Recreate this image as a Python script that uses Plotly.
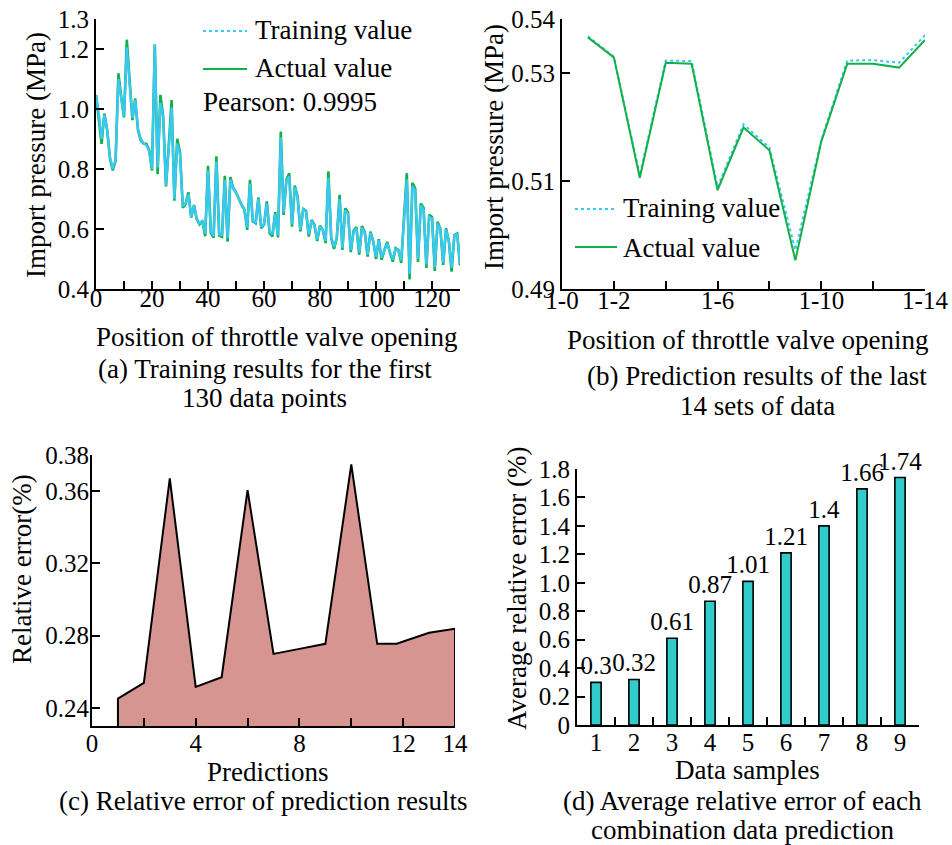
import plotly.graph_objects as go

W, H = 952, 845
FONT = "Liberation Serif, Times New Roman, serif"

# ---------------- data ----------------
# (a) training results, first 130 data points
a_x = list(range(0, 131))
a_actual = [1.047, 0.974, 0.884, 0.985, 0.929, 0.834, 0.795, 0.828, 1.119, 1.041,
            0.972, 1.231, 1.097, 0.963, 1.035, 0.929, 0.895, 0.884, 0.884, 0.862,
            0.795, 1.215, 0.783, 1.047, 0.974, 0.742, 0.880, 1.030, 0.694, 0.901,
            0.856, 0.671, 0.683, 0.722, 0.638, 0.680, 0.632, 0.615, 0.627, 0.576,
            0.811, 0.587, 0.571, 0.842, 0.578, 0.574, 0.777, 0.558, 0.773, 0.737,
            0.722, 0.700, 0.680, 0.665, 0.597, 0.764, 0.625, 0.619, 0.705, 0.603,
            0.614, 0.692, 0.586, 0.575, 0.656, 0.572, 0.925, 0.647, 0.764, 0.786,
            0.608, 0.745, 0.708, 0.592, 0.667, 0.661, 0.575, 0.630, 0.614, 0.560,
            0.611, 0.597, 0.553, 0.792, 0.570, 0.534, 0.570, 0.714, 0.530, 0.669,
            0.655, 0.523, 0.595, 0.606, 0.515, 0.610, 0.590, 0.508, 0.591, 0.560,
            0.500, 0.566, 0.497, 0.530, 0.557, 0.520, 0.491, 0.536, 0.530, 0.487,
            0.640, 0.786, 0.432, 0.754, 0.735, 0.490, 0.685, 0.670, 0.470, 0.647,
            0.640, 0.460, 0.624, 0.600, 0.480, 0.602, 0.560, 0.458, 0.580, 0.585,
            0.479]
a_training = [1.045, 0.985, 0.900, 0.980, 0.930, 0.840, 0.800, 0.830, 1.100, 1.040,
              0.975, 1.205, 1.095, 0.970, 1.030, 0.935, 0.900, 0.885, 0.880, 0.860,
              0.800, 1.215, 0.805, 1.020, 0.970, 0.745, 0.870, 1.005, 0.700, 0.885,
              0.850, 0.675, 0.685, 0.715, 0.640, 0.678, 0.634, 0.618, 0.626, 0.585,
              0.795, 0.592, 0.576, 0.825, 0.582, 0.580, 0.762, 0.570, 0.765, 0.735,
              0.720, 0.700, 0.680, 0.665, 0.605, 0.750, 0.628, 0.620, 0.700, 0.607,
              0.615, 0.685, 0.590, 0.582, 0.650, 0.580, 0.905, 0.655, 0.760, 0.775,
              0.615, 0.740, 0.705, 0.598, 0.665, 0.658, 0.582, 0.628, 0.612, 0.566,
              0.608, 0.597, 0.560, 0.770, 0.575, 0.540, 0.572, 0.700, 0.536, 0.662,
              0.650, 0.530, 0.592, 0.602, 0.522, 0.604, 0.588, 0.514, 0.588, 0.560,
              0.507, 0.562, 0.504, 0.530, 0.553, 0.522, 0.498, 0.534, 0.530, 0.495,
              0.640, 0.765, 0.450, 0.742, 0.728, 0.500, 0.678, 0.665, 0.482, 0.640,
              0.635, 0.472, 0.618, 0.598, 0.488, 0.598, 0.562, 0.470, 0.578, 0.582,
              0.485]
a_xticks = list(range(0, 131, 10))
a_xticklabels = ["0", "", "20", "", "40", "", "60", "", "80", "", "100", "", "120", ""]
a_yticks = [0.4, 0.6, 0.8, 1.0, 1.2, 1.3]
a_yticklabels = ["0.4", "0.6", "0.8", "1.0", "1.2", "1.3"]
pearson_text = "Pearson: 0.9995"

# (b) prediction results of the last 14 sets
b_x = list(range(1, 15))
b_actual = [0.5366, 0.5329, 0.5106, 0.5319, 0.5317, 0.5083, 0.5199, 0.5157,
            0.4953, 0.5173, 0.5317, 0.5317, 0.5310, 0.5361]
b_training = [0.5368, 0.5330, 0.5111, 0.5323, 0.5322, 0.5089, 0.5205, 0.5162,
              0.4972, 0.5176, 0.5323, 0.5324, 0.5319, 0.5370]
b_xticks = [0, 2, 4, 6, 8, 10, 12, 14]
b_xticklabels = ["1-0", "1-2", "", "1-6", "", "1-10", "", "1-14"]
b_yticks = [0.49, 0.51, 0.53, 0.54]
b_yticklabels = ["0.49", "0.51", "0.53", "0.54"]

# (c) relative error of prediction results
c_x = [1, 2, 3, 4, 5, 6, 7, 8, 9, 10, 11, 11.75, 13, 14]
c_err = [0.2452, 0.2539, 0.3671, 0.2516, 0.2570, 0.3606, 0.2699, 0.2727,
         0.2755, 0.3748, 0.2755, 0.2755, 0.2816, 0.2838]
c_xticks = [0, 2, 4, 6, 8, 10, 12, 14]
c_xticklabels = ["0", "", "4", "", "8", "", "12", "14"]
c_yticks = [0.24, 0.28, 0.32, 0.36, 0.38]
c_yticklabels = ["0.24", "0.28", "0.32", "0.36", "0.38"]

# (d) average relative error of each combination
d_samples = ["1", "2", "3", "4", "5", "6", "7", "8", "9"]
d_err = [0.30, 0.32, 0.61, 0.87, 1.01, 1.21, 1.40, 1.66, 1.74]
d_labels = ["0.3", "0.32", "0.61", "0.87", "1.01", "1.21", "1.4", "1.66", "1.74"]
d_yticks = [0, 0.2, 0.4, 0.6, 0.8, 1.0, 1.2, 1.4, 1.6, 1.8]
d_yticklabels = ["0", "0.2", "0.4", "0.6", "0.8", "1.0", "1.2", "1.4", "1.6", "1.8"]

GREEN = "#12b04a"
BLUE = "#38c8f4"
FILL = "#d69591"
TEAL = "#33cccc"
TXT = 27


def px(x):
    return x / W


def py(y):
    return 1 - y / H


fig = go.Figure()

# (a)
fig.add_trace(go.Scatter(x=a_x, y=a_actual, mode="lines", name="Actual value",
                         line=dict(color=GREEN, width=2.6), xaxis="x", yaxis="y",
                         showlegend=False))
fig.add_trace(go.Scatter(x=a_x, y=a_training, mode="lines", name="Training value",
                         line=dict(color=BLUE, width=2.4), xaxis="x", yaxis="y",
                         showlegend=False))
# (b)
fig.add_trace(go.Scatter(x=b_x, y=b_training, mode="lines", name="Training value",
                         line=dict(color=BLUE, width=2, dash="dot"), xaxis="x2", yaxis="y2",
                         showlegend=False))
fig.add_trace(go.Scatter(x=b_x, y=b_actual, mode="lines", name="Actual value",
                         line=dict(color=GREEN, width=2), xaxis="x2", yaxis="y2",
                         showlegend=False))
# (c) closed area down to the baseline
fig.add_trace(go.Scatter(x=[c_x[0]] + c_x + [c_x[-1]], y=[0] + c_err + [0],
                         mode="lines", fill="toself", fillcolor=FILL,
                         line=dict(color="black", width=2), xaxis="x3", yaxis="y3",
                         showlegend=False))
# (d)
fig.add_trace(go.Bar(x=d_samples, y=d_err, text=d_labels, textposition="outside",
                     constraintext="none",
                     textfont=dict(size=25, color="black", family=FONT),
                     marker=dict(color=TEAL, line=dict(color="black", width=1.6)),
                     width=0.27, cliponaxis=False, xaxis="x4", yaxis="y4",
                     showlegend=False))

axis_common = dict(showline=True, linecolor="black", linewidth=2, ticks="inside",
                   ticklen=8, tickwidth=2, tickcolor="black", showgrid=False,
                   zeroline=False, automargin=False, ticklabeloverflow="allow",
                   tickfont=dict(size=25, color="black", family=FONT))

fig.update_layout(
    template="none",
    width=W, height=H, margin=dict(l=0, r=0, t=0, b=0, pad=0),
    paper_bgcolor="white", plot_bgcolor="white",
    font=dict(family=FONT, size=25, color="black"),
    uniformtext=dict(mode=False),
    xaxis=dict(domain=[px(96), px(460)], range=[0, 130], tickmode="array",
               tickvals=a_xticks, ticktext=a_xticklabels, anchor="y",
               ticklabelstandoff=-14, **axis_common),
    yaxis=dict(domain=[py(289), py(19)], range=[0.4, 1.3], tickmode="array",
               tickvals=a_yticks, ticktext=a_yticklabels, anchor="x", **axis_common),
    xaxis2=dict(domain=[px(562), px(925)], range=[0, 14], tickmode="array",
                tickvals=b_xticks, ticktext=b_xticklabels, anchor="y2",
                ticklabelstandoff=-12, **axis_common),
    yaxis2=dict(domain=[py(289), py(19)], range=[0.49, 0.54], tickmode="array",
                tickvals=b_yticks, ticktext=b_yticklabels, anchor="x2", **axis_common),
    xaxis3=dict(domain=[px(92), px(455)], range=[0, 14], tickmode="array",
                tickvals=c_xticks, ticktext=c_xticklabels, anchor="y3",
                ticklabelstandoff=-6, **axis_common),
    yaxis3=dict(domain=[py(726), py(455)], range=[0.23, 0.38], tickmode="array",
                tickvals=c_yticks, ticktext=c_yticklabels, anchor="x3",
                ticklabelstandoff=-4, **axis_common),
    xaxis4=dict(domain=[px(577), px(919)], type="category", tickson="boundaries",
                range=[-0.5, 8.5], anchor="y4", ticklabelstandoff=-6, **axis_common),
    yaxis4=dict(domain=[py(725), py(469)], range=[0, 1.8], tickmode="array",
                tickvals=d_yticks, ticktext=d_yticklabels, anchor="x4", **axis_common),
)


def ann(text, x, y, anchor="center", angle=0, size=TXT):
    fig.add_annotation(text=text, x=px(x), y=py(y), xref="paper", yref="paper",
                       xanchor=anchor, yanchor="middle", showarrow=False, textangle=angle,
                       font=dict(size=size, family=FONT, color="black"))


# axis titles and captions
ann("Import pressure (MPa)", 36, 155, angle=-90)
ann("Position of throttle valve opening", 276, 337)
ann("(a) Training results for the first", 265, 369)
ann("130 data points", 264, 398)

ann("Import pressure (MPa)", 494, 147, angle=-90)
ann("Position of throttle valve opening", 747, 340)
ann("(b) Prediction results of the last", 757, 376)
ann("14 sets of data", 757, 406)

ann("Relative error(%)", 22, 569, angle=-90)
ann("Predictions", 268, 772)
ann("(c) Relative error of prediction results", 263, 801)

ann("Average relative error (%)", 517, 588, angle=-90)
ann("Data samples", 747, 770)
ann("(d) Average relative error of each", 742, 801)
ann("combination data prediction", 742, 830)

# legends (a)
fig.add_shape(type="line", xref="paper", yref="paper", x0=px(203), x1=px(247),
              y0=py(31), y1=py(31), line=dict(color=BLUE, width=2, dash="dot"))
fig.add_shape(type="line", xref="paper", yref="paper", x0=px(203), x1=px(247),
              y0=py(69), y1=py(69), line=dict(color=GREEN, width=2))
ann("Training value", 253, 30, anchor="left")
ann("Actual value", 253, 68, anchor="left")
ann(pearson_text, 201, 102, anchor="left")

# legends (b)
fig.add_shape(type="line", xref="paper", yref="paper", x0=px(575), x1=px(617),
              y0=py(209), y1=py(209), line=dict(color=BLUE, width=2, dash="dot"))
fig.add_shape(type="line", xref="paper", yref="paper", x0=px(575), x1=px(617),
              y0=py(247), y1=py(247), line=dict(color=GREEN, width=2))
ann("Training value", 621, 208, anchor="left")
ann("Actual value", 621, 248, anchor="left")

# remove the browser's default page margin so the figure fills the window exactly
fig.write_html("out.html", config={"displayModeBar": False},
               post_script="document.body.style.margin='0';document.body.style.overflow='hidden';")
